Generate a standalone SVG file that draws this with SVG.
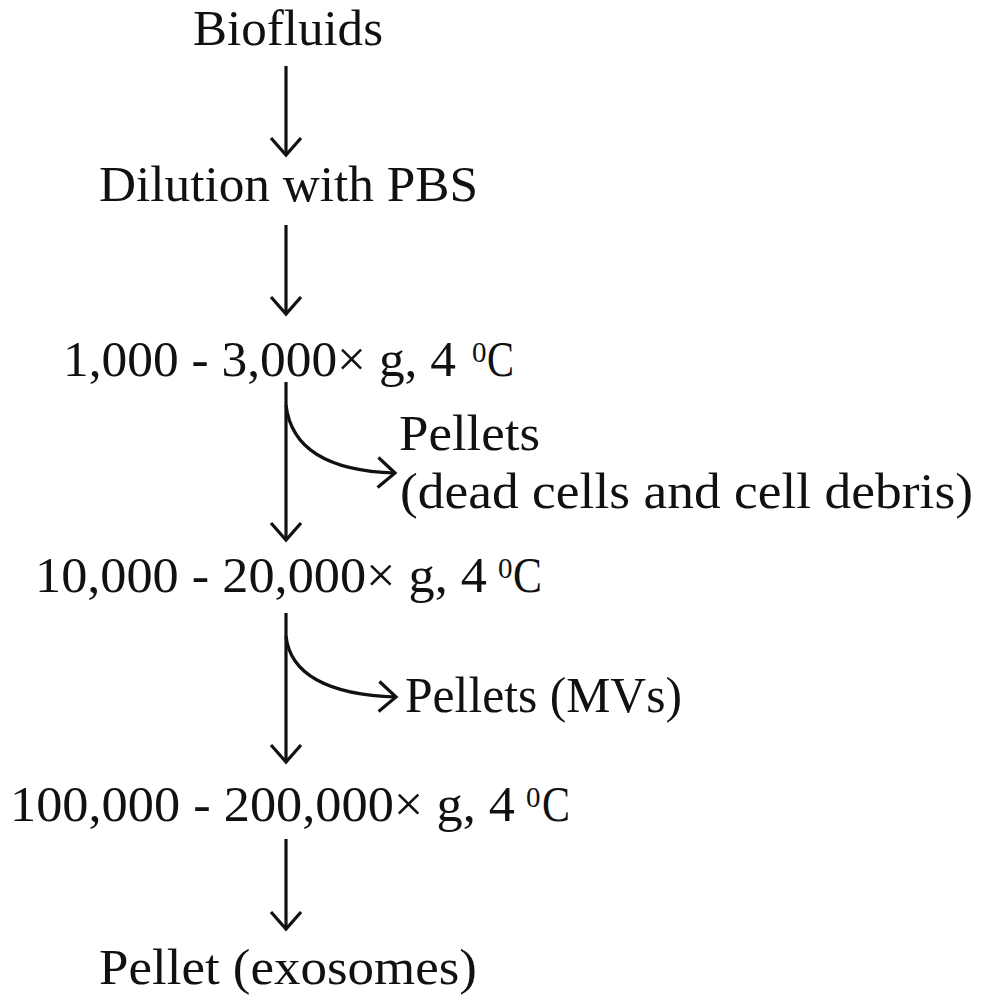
<svg xmlns="http://www.w3.org/2000/svg" width="988" height="1008" viewBox="0 0 988 1008">
  <style>
    text { font-family: "Liberation Serif", "DejaVu Serif", serif; font-size: 51px; fill: #111; }
    .sup { font-size: 29px; }
    .conn { fill: none; stroke: #111; stroke-width: 3.2; marker-end: url(#head); }
  </style>
  <defs>
    <marker id="head" markerUnits="userSpaceOnUse" markerWidth="40" markerHeight="40" refX="0" refY="0" orient="auto" overflow="visible">
      <path d="M-17,-15 L0,0 L-17,15" fill="none" stroke="#111" stroke-width="3.2" stroke-linejoin="miter"/>
    </marker>
  </defs>
  <rect width="988" height="1008" fill="#ffffff"/>

  <g id="connectors">
    <path class="conn" d="M286,66 L286,155"/>
    <path class="conn" d="M286,225 L286,314"/>
    <path class="conn" d="M286,382 L286,540"/>
    <path class="conn" d="M286,405 C291,448 328,471 395,473"/>
    <path class="conn" d="M286,636 C290,674 328,695 396,697"/>
    <path class="conn" d="M286,613 L286,762"/>
    <path class="conn" d="M286,839 L286,929"/>
  </g>

  <g id="biofluids">
    <text x="193" y="45" textLength="190" lengthAdjust="spacingAndGlyphs">Biofluids</text>
  </g>
  <g id="dilution">
    <text x="99" y="201" textLength="379" lengthAdjust="spacingAndGlyphs">Dilution with PBS</text>
  </g>
  <g id="spin1">
    <text x="63" y="376" textLength="393" lengthAdjust="spacingAndGlyphs">1,000 - 3,000× g, 4</text>
    <text class="sup" x="472" y="362">0</text>
    <text x="487" y="376" textLength="27" lengthAdjust="spacingAndGlyphs">C</text>
  </g>
  <g id="pellets-debris">
    <text x="399" y="450" textLength="141" lengthAdjust="spacingAndGlyphs">Pellets</text>
    <text x="400" y="508" textLength="573" lengthAdjust="spacingAndGlyphs">(dead cells and cell debris)</text>
  </g>
  <g id="spin2">
    <text x="35" y="592" textLength="452" lengthAdjust="spacingAndGlyphs">10,000 - 20,000× g, 4</text>
    <text class="sup" x="498" y="578">0</text>
    <text x="513" y="592" textLength="29" lengthAdjust="spacingAndGlyphs">C</text>
  </g>
  <g id="pellets-mvs">
    <text x="405" y="712" textLength="277" lengthAdjust="spacingAndGlyphs">Pellets (MVs)</text>
  </g>
  <g id="spin3">
    <text x="10" y="821" textLength="505" lengthAdjust="spacingAndGlyphs">100,000 - 200,000× g, 4</text>
    <text class="sup" x="526" y="807">0</text>
    <text x="542" y="821" textLength="28" lengthAdjust="spacingAndGlyphs">C</text>
  </g>
  <g id="pellet-exosomes">
    <text x="99" y="984" textLength="378" lengthAdjust="spacingAndGlyphs">Pellet (exosomes)</text>
  </g>
</svg>
